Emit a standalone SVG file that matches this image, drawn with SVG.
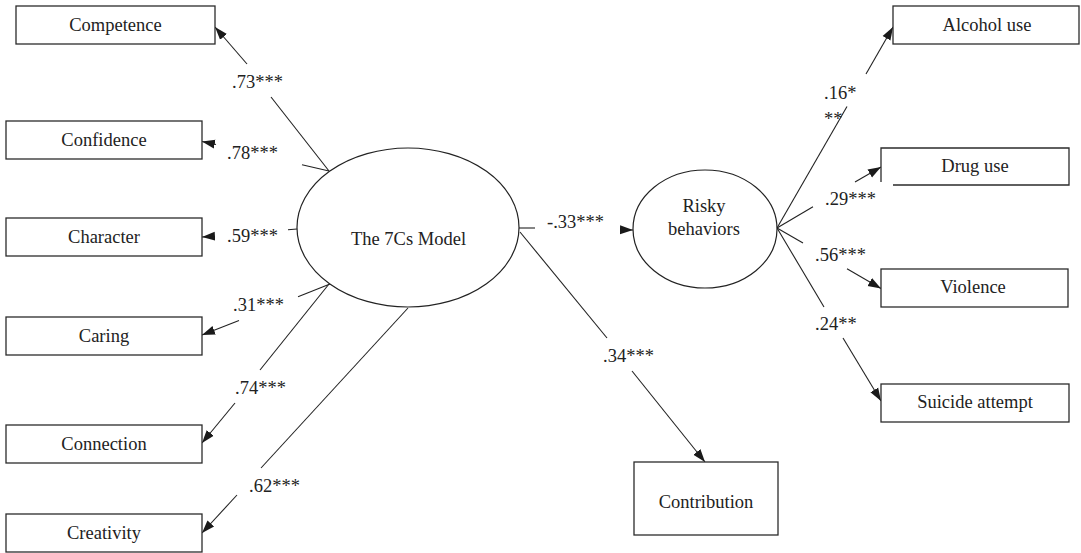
<svg xmlns="http://www.w3.org/2000/svg" width="1081" height="553" viewBox="0 0 1081 553">
  <style>
    .box { fill: #ffffff; stroke: #2b2b2b; stroke-width: 1.3; }
    .oval { fill: #ffffff; stroke: #222222; stroke-width: 1.2; }
    .lbl { font-family: 'Liberation Serif', 'Times New Roman', Times, 'DejaVu Serif', serif; font-size: 18.5px; fill: #222222; }
    .mid { text-anchor: middle; }
    .ln { fill: none; stroke: #222222; stroke-width: 1.1; }
    .arr { fill: none; stroke: #222222; stroke-width: 1.1; marker-end: url(#head); }
  </style>
  <defs>
    <marker id="head" markerUnits="userSpaceOnUse" markerWidth="14" markerHeight="12" viewBox="0 0 14 12" refX="13" refY="6" orient="auto">
      <path d="M0,1.5 L13,6 L0,10.5 Z" fill="#1a1a1a"/>
    </marker>
  </defs>
  <rect width="1081" height="553" fill="#ffffff"/>

  <!-- connectors, each broken around its coefficient label -->
  <g id="connectors">
    <!-- 7Cs -> Competence -->
    <line class="ln" x1="329" y1="171" x2="271" y2="97"/>
    <line class="arr" x1="247" y1="64" x2="215" y2="27"/>
    <!-- 7Cs -> Confidence -->
    <line class="ln" x1="329" y1="171" x2="302" y2="164.8"/>
    <line class="arr" x1="216" y1="144.5" x2="202" y2="141.5"/>
    <!-- 7Cs -> Character -->
    <line class="ln" x1="297" y1="229" x2="288" y2="229.8"/>
    <line class="arr" x1="214" y1="236.2" x2="202" y2="237"/>
    <!-- 7Cs -> Caring -->
    <line class="ln" x1="330" y1="284" x2="298" y2="296.8"/>
    <line class="arr" x1="239" y1="320.5" x2="202" y2="335"/>
    <!-- 7Cs -> Connection -->
    <line class="ln" x1="329" y1="284" x2="260" y2="370"/>
    <line class="arr" x1="235" y1="403" x2="202" y2="443"/>
    <!-- 7Cs -> Creativity -->
    <line class="ln" x1="408" y1="308" x2="261" y2="468"/>
    <line class="arr" x1="237" y1="495" x2="202" y2="533"/>
    <!-- 7Cs -> Contribution -->
    <line class="ln" x1="520" y1="232" x2="607" y2="338"/>
    <line class="arr" x1="632" y1="371" x2="705" y2="462"/>
    <!-- 7Cs -> Risky behaviors -->
    <line class="ln" x1="519" y1="228" x2="535" y2="228"/>
    <line class="arr" x1="621" y1="229.8" x2="633" y2="230"/>
    <!-- Risky behaviors -> Alcohol use -->
    <line class="ln" x1="777" y1="228" x2="847" y2="106.5"/>
    <line class="arr" x1="866" y1="74" x2="893" y2="27"/>
    <!-- Risky behaviors -> Drug use -->
    <line class="ln" x1="777" y1="228" x2="813" y2="206.7"/>
    <line class="arr" x1="855" y1="182" x2="881" y2="167"/>
    <!-- Risky behaviors -> Violence -->
    <line class="ln" x1="777" y1="228" x2="803" y2="243"/>
    <line class="arr" x1="847" y1="268.8" x2="881" y2="288.5"/>
    <!-- Risky behaviors -> Suicide attempt -->
    <line class="ln" x1="777" y1="228" x2="824" y2="307"/>
    <line class="arr" x1="843" y1="338" x2="881" y2="401"/>
  </g>

  <!-- coefficient labels -->
  <g id="coefficients">
    <text class="lbl" x="232" y="88">.73***</text>
    <text class="lbl" x="227" y="159">.78***</text>
    <text class="lbl" x="227" y="242">.59***</text>
    <text class="lbl" x="233" y="311">.31***</text>
    <text class="lbl" x="235" y="394">.74***</text>
    <text class="lbl" x="249" y="492">.62***</text>
    <text class="lbl" x="547" y="228">-.33***</text>
    <text class="lbl" x="603" y="362">.34***</text>
    <text class="lbl" x="824" y="99">.16*</text>
    <text class="lbl" x="824" y="125">**</text>
    <text class="lbl" x="825" y="205">.29***</text>
    <text class="lbl" x="815" y="261">.56***</text>
    <text class="lbl" x="815" y="330">.24**</text>
  </g>

  <!-- latent variables -->
  <g id="model-7cs">
    <ellipse class="oval" cx="408" cy="227.5" rx="111" ry="79.5"/>
    <text class="lbl mid" x="408.5" y="245">The 7Cs Model</text>
  </g>
  <g id="risky-behaviors">
    <ellipse class="oval" cx="705" cy="229" rx="72" ry="59"/>
    <text class="lbl mid" x="704" y="212">Risky</text>
    <text class="lbl mid" x="704" y="235">behaviors</text>
  </g>

  <!-- 7Cs indicators -->
  <g id="competence">
    <rect class="box" x="16" y="6" width="199" height="38"/>
    <text class="lbl mid" x="115.5" y="31">Competence</text>
  </g>
  <g id="confidence">
    <rect class="box" x="6" y="121" width="196" height="38"/>
    <text class="lbl mid" x="104" y="145.5">Confidence</text>
  </g>
  <g id="character">
    <rect class="box" x="6" y="218" width="196" height="38"/>
    <text class="lbl mid" x="104" y="243">Character</text>
  </g>
  <g id="caring">
    <rect class="box" x="6" y="317" width="196" height="38"/>
    <text class="lbl mid" x="104" y="342">Caring</text>
  </g>
  <g id="connection">
    <rect class="box" x="6" y="425" width="196" height="38"/>
    <text class="lbl mid" x="104" y="450">Connection</text>
  </g>
  <g id="creativity">
    <rect class="box" x="6" y="514" width="196" height="38"/>
    <text class="lbl mid" x="104" y="539">Creativity</text>
  </g>
  <g id="contribution">
    <rect class="box" x="634" y="462" width="144" height="73"/>
    <text class="lbl mid" x="706" y="508">Contribution</text>
  </g>

  <!-- risk outcomes -->
  <g id="alcohol-use">
    <rect class="box" x="893" y="6" width="186" height="38"/>
    <text class="lbl mid" x="987" y="30.5">Alcohol use</text>
  </g>
  <g id="drug-use">
    <path class="box" d="M881,182 V148 H1069 V185 H893"/>
    <text class="lbl mid" x="975" y="172">Drug use</text>
  </g>
  <g id="violence">
    <rect class="box" x="881" y="269" width="187" height="38"/>
    <text class="lbl mid" x="973" y="293">Violence</text>
  </g>
  <g id="suicide-attempt">
    <rect class="box" x="881" y="384" width="188" height="38"/>
    <text class="lbl mid" x="975" y="408">Suicide attempt</text>
  </g>
</svg>
